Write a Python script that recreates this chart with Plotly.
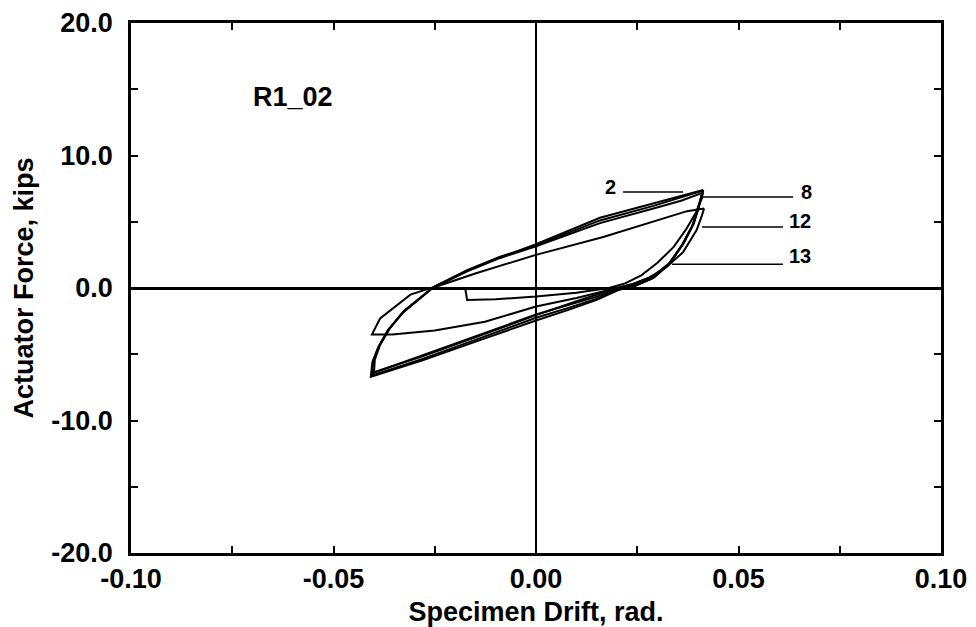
import plotly.graph_objects as go

# ---------------- data ----------------
# Cycle 1: initial hook + small negative-amplitude loop
c1_x = [-0.0175, -0.0170, -0.0100, 0.0000, 0.0100, 0.0180, 0.0220, 0.0260, 0.0300, 0.0340,
        0.0370, 0.0395, 0.0410, 0.0412,
        0.0400, 0.0385, 0.0360, 0.0330, 0.0290, 0.0240, 0.0200, 0.0100, 0.0000, -0.0126,
        -0.0250, -0.0355, -0.0405,
        -0.0385, -0.0310, -0.0255, -0.0170, -0.0090, 0.0000, 0.0158, 0.0290, 0.0412]
c1_y = [0.00, -0.90, -0.85, -0.65, -0.35, 0.00, 0.35, 0.95, 1.90, 3.10,
        4.40, 5.70, 6.80, 7.30,
        5.90, 4.60, 3.20, 1.90, 0.90, 0.30, 0.00, -0.75, -1.40, -2.55,
        -3.20, -3.50, -3.50,
        -2.30, -0.50, 0.05, 1.35, 2.35, 3.20, 5.10, 6.20, 7.35]

# Cycle 2: outer loop (top loading branch)
c2_x = [0.0412, 0.0402, 0.0390, 0.0365, 0.0332, 0.0292, 0.0245, 0.0207, 0.0150, 0.0080, 0.0000,
        -0.0126, -0.0280, -0.0400,
        -0.0398, -0.0385, -0.0360, -0.0325, -0.0254, -0.0170, -0.0090, 0.0000, 0.0158, 0.0290,
        0.0360, 0.0413]
c2_y = [7.40, 6.10, 4.90, 3.40, 1.90, 0.80, 0.20, -0.05, -0.65, -1.30, -2.00,
        -3.40, -5.10, -6.40,
        -5.40, -4.30, -3.00, -1.70, 0.05, 1.30, 2.30, 3.30, 5.30, 6.40, 6.95, 7.40]

# Cycle 8
c8_x = [0.0413, 0.0400, 0.0388, 0.0362, 0.0328, 0.0288, 0.0242, 0.0205, 0.0150, 0.0080, 0.0000,
        -0.0126, -0.0280, -0.0405,
        -0.0402, -0.0388, -0.0363, -0.0328, -0.0255, -0.0170, -0.0090, 0.0000, 0.0158, 0.0290,
        0.0360, 0.0412]
c8_y = [7.40, 6.00, 4.80, 3.30, 1.80, 0.75, 0.15, -0.10, -0.80, -1.50, -2.25,
        -3.65, -5.35, -6.60,
        -5.50, -4.40, -3.10, -1.80, 0.00, 1.25, 2.25, 3.15, 4.90, 6.00, 6.60, 7.20]

# Cycle 12: loop ending on the inner (lowest) loading branch
c12_x = [0.0412, 0.0398, 0.0386, 0.0360, 0.0326, 0.0286, 0.0240, 0.0203, 0.0150, 0.0080, 0.0000,
         -0.0126, -0.0280, -0.0408,
         -0.0404, -0.0390, -0.0366, -0.0330, -0.0256, -0.0150, 0.0000, 0.0166, 0.0290, 0.0373,
         0.0415]
c12_y = [7.20, 5.90, 4.70, 3.20, 1.70, 0.70, 0.10, -0.15, -0.90, -1.65, -2.45,
         -3.80, -5.45, -6.70,
         -5.60, -4.50, -3.20, -1.90, 0.00, 1.10, 2.50, 3.85, 5.00, 5.80, 6.00]

# Cycle 13: offset unloading branch
c13_x = [0.0415, 0.0410, 0.0397, 0.0363, 0.0323, 0.0280, 0.0240, 0.0200, 0.0100, 0.0000,
         -0.0126, -0.0280, -0.0400]
c13_y = [6.00, 5.50, 4.40, 2.70, 1.60, 0.80, 0.30, 0.00, -1.00, -2.05,
         -3.45, -5.15, -6.35]

cycles = [(c1_x, c1_y), (c2_x, c2_y), (c8_x, c8_y), (c12_x, c12_y), (c13_x, c13_y)]

# cycle labels with leader lines
label_text = ["2", "8", "12", "13"]
label_x = [0.0185, 0.0667, 0.0652, 0.0652]
label_y = [7.60, 7.25, 5.06, 2.40]
leader_x0 = [0.0215, 0.0412, 0.0410, 0.0336]
leader_x1 = [0.0363, 0.0635, 0.0610, 0.0610]
leader_y = [7.25, 6.87, 4.60, 1.80]

x_tickvals = [-0.10, -0.075, -0.05, -0.025, 0.0, 0.025, 0.05, 0.075, 0.10]
x_ticktext = ["-0.10", "", "-0.05", "", "0.00", "", "0.05", "", "0.10"]
y_tickvals = [-20, -15, -10, -5, 0, 5, 10, 15, 20]
y_ticktext = ["-20.0", "", "-10.0", "", "0.0", "", "10.0", "", "20.0"]

specimen = "R1_02"

# ---------------- figure ----------------
FONT = "Liberation Sans"
fig = go.Figure()
for cx, cy in cycles:
    fig.add_trace(go.Scatter(x=cx, y=cy, mode="lines",
                             line=dict(color="black", width=2),
                             showlegend=False, hoverinfo="skip"))

for x0, x1, yy in zip(leader_x0, leader_x1, leader_y):
    fig.add_trace(go.Scatter(x=[x0, x1], y=[yy, yy], mode="lines",
                             line=dict(color="black", width=1.5),
                             showlegend=False, hoverinfo="skip"))

for t, lx, ly in zip(label_text, label_x, label_y):
    fig.add_annotation(x=lx, y=ly, text=t, showarrow=False,
                       font=dict(family=FONT, size=20, color="black", weight="bold"))

fig.add_annotation(x=-0.0600, y=14.4, text=specimen, showarrow=False,
                   font=dict(family=FONT, size=27, color="black", weight="bold"))

axis_common = dict(ticks="inside", ticklen=7, tickwidth=2, tickcolor="black",
                   showline=True, linewidth=2.5, linecolor="black", mirror="allticks",
                   showgrid=False, zeroline=True, zerolinecolor="black",
                   tickfont=dict(family=FONT, size=27, color="black", weight="bold"))

fig.update_xaxes(range=[-0.10, 0.10], tickvals=x_tickvals, ticktext=x_ticktext,
                 zerolinewidth=2,
                 title=dict(text="Specimen Drift, rad.", standoff=11,
                            font=dict(family=FONT, size=27, color="black", weight="bold")),
                 **axis_common)
fig.update_yaxes(range=[-20, 20], tickvals=y_tickvals, ticktext=y_ticktext,
                 zerolinewidth=3, ticklabelstandoff=10,
                 title=dict(text="Actuator Force, kips", standoff=10,
                            font=dict(family=FONT, size=27, color="black", weight="bold")),
                 **axis_common)

fig.update_layout(width=976, height=627,
                  margin=dict(l=131, r=35, t=23, b=74, autoexpand=False),
                  paper_bgcolor="white", plot_bgcolor="white",
                  hovermode=False)

fig.write_html("out.html", config={"displayModeBar": False})
